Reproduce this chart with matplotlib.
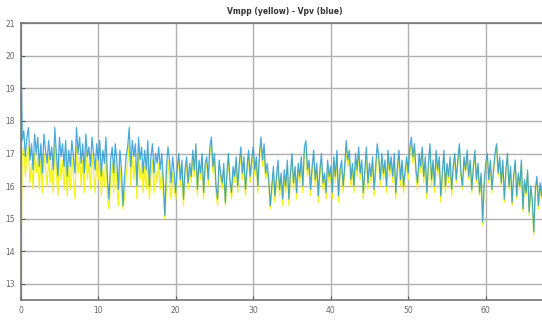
import numpy as np
import matplotlib
matplotlib.use("Agg")
from matplotlib import pyplot as plt

# sample spacing of the recorded signal (time units)
T_STEP = 0.2

vpv = [
    20.8, 17.4, 17.7, 16.9, 17.5, 17.8, 16.8, 17.3, 16.5, 17.6,
    17.0, 17.5, 16.6, 17.3, 16.4, 17.6, 17.1, 16.7, 17.4, 16.8,
    17.2, 16.5, 17.8, 17.0, 16.3, 17.5, 16.9, 17.3, 16.6, 17.4,
    16.3, 17.1, 16.6, 17.4, 16.9, 16.4, 17.8, 17.0, 17.5, 16.7,
    17.3, 16.4, 17.6, 16.9, 17.2, 16.6, 17.5, 17.0, 16.5, 17.3,
    16.8, 17.4, 16.3, 17.1, 16.7, 17.5, 16.2, 15.6, 16.8, 17.2,
    16.4, 17.3, 16.8, 15.9, 17.1, 16.5, 15.4, 16.3, 16.9, 17.2,
    17.8, 16.6, 17.4, 16.9, 17.3, 16.0, 17.5, 16.8, 17.2, 16.4,
    17.1, 16.5, 17.4, 16.0, 16.9, 17.3, 16.4, 17.0, 16.7, 17.2,
    16.5, 17.0, 16.2, 15.1, 16.6, 17.2, 16.8, 16.1, 16.9, 16.4,
    15.8, 16.6, 17.0, 16.2, 16.8, 15.6, 16.5, 16.9, 16.1, 16.7,
    16.3, 17.1, 16.5, 17.3, 15.9, 16.8, 16.4, 17.0, 15.8, 16.7,
    16.9, 16.2, 17.2, 17.5, 16.6, 17.0, 16.0, 15.6, 16.8, 16.4,
    16.1, 16.7, 15.5, 16.4, 17.0, 16.2, 15.8, 16.6, 16.3, 16.9,
    16.0, 16.7, 17.2, 16.4, 16.9, 15.9, 16.6, 17.1, 16.3, 16.8,
    17.2, 16.5, 16.9, 16.0, 17.0, 17.5, 16.8, 17.3, 16.4, 16.7,
    16.2, 15.4, 16.0, 16.6, 15.7, 16.3, 16.8, 15.9, 16.4, 15.6,
    16.5, 16.0, 16.8, 15.6, 16.4, 17.0, 16.1, 16.6, 15.8, 16.7,
    16.3, 16.9, 16.0, 17.2, 17.4, 16.5, 16.8, 15.9, 16.6, 17.1,
    16.2, 16.7, 15.7, 16.5, 17.0, 16.1, 16.4, 15.8, 16.8, 16.3,
    16.6, 15.8, 16.9, 16.3, 17.1, 15.7, 16.5, 16.8, 16.0, 16.6,
    17.4, 16.8, 17.1, 16.2, 16.7, 16.0, 17.0, 16.5, 17.2, 16.4,
    16.8, 15.8, 16.5, 17.2, 16.1, 16.7, 16.3, 16.9, 15.9, 16.6,
    17.3, 16.9, 16.2, 17.0, 16.4, 16.8, 16.0, 17.1, 16.5, 16.9,
    16.3, 17.0, 15.8, 16.6, 17.1, 16.2, 16.8, 16.0, 16.5, 16.9,
    16.4, 17.2, 17.5, 16.9, 17.3, 16.5, 16.1, 17.0, 16.6, 17.2,
    16.3, 16.9, 15.8, 16.7, 17.3, 16.2, 16.8, 16.0, 17.1, 16.5,
    16.9, 15.7, 16.4, 17.1, 16.0, 16.7, 16.3, 16.9, 15.9, 16.6,
    17.0, 16.2, 16.8, 17.3, 16.4, 16.0, 16.9, 16.5, 17.1, 16.3,
    16.8, 15.9, 16.6, 17.1, 16.2, 16.7, 15.8, 16.4, 14.9, 16.1,
    16.7, 17.0, 16.2, 16.8, 15.9, 16.5, 17.0, 17.3, 16.4, 16.9,
    16.1, 16.8, 15.6, 16.5, 17.0, 16.0, 16.6, 15.5, 16.3, 16.8,
    15.7, 16.4, 16.0, 16.8, 15.3, 16.2, 15.8, 16.5, 15.2, 16.0,
    15.6, 14.6, 15.9, 16.3, 15.4, 16.1, 15.7, 16.5, 15.2, 15.8,
    15.5,
]

vmpp = [
    13.0, 17.0, 17.2, 16.3, 16.9, 17.2, 16.1, 16.7, 15.9, 17.0,
    16.4, 16.9, 15.9, 16.8, 15.8, 17.0, 16.5, 16.0, 16.9, 16.1,
    16.7, 15.8, 17.3, 16.4, 15.7, 16.9, 16.2, 16.8, 15.9, 16.9,
    15.7, 16.6, 15.9, 16.9, 16.3, 15.6, 17.2, 16.4, 16.9, 16.0,
    16.8, 15.8, 17.1, 16.2, 16.7, 15.9, 17.0, 16.4, 15.8, 16.8,
    16.2, 16.9, 15.7, 16.5, 16.0, 17.0, 15.6, 15.3, 16.2, 16.7,
    15.8, 16.8, 16.1, 15.4, 16.6, 15.9, 15.3, 15.7, 16.3, 16.7,
    17.3, 16.0, 16.9, 16.2, 16.8, 15.6, 17.0, 16.2, 16.7, 15.8,
    16.6, 15.9, 16.9, 15.6, 16.3, 16.8, 15.8, 16.5, 16.1, 16.7,
    15.9, 16.5, 15.7, 15.0, 16.0, 16.8, 16.2, 15.6, 16.4, 15.9,
    15.6, 16.4, 16.8, 16.0, 16.6, 15.4, 16.3, 16.7, 15.9, 16.5,
    16.1, 16.9, 16.3, 17.1, 15.7, 16.6, 16.2, 16.8, 15.6, 16.5,
    16.7, 16.0, 17.0, 17.3, 16.4, 16.8, 15.8, 15.4, 16.6, 16.2,
    15.9, 16.5, 15.4, 16.2, 16.8, 16.0, 15.6, 16.4, 16.1, 16.7,
    15.8, 16.5, 17.0, 16.2, 16.7, 15.7, 16.4, 16.9, 16.1, 16.6,
    17.0, 16.3, 16.7, 15.8, 16.8, 17.3, 16.6, 17.1, 16.2, 16.5,
    16.0, 15.3, 15.8, 16.4, 15.5, 16.1, 16.6, 15.7, 16.2, 15.4,
    16.3, 15.8, 16.6, 15.4, 16.2, 16.8, 15.9, 16.4, 15.6, 16.5,
    16.1, 16.7, 15.8, 17.0, 17.2, 16.3, 16.6, 15.7, 16.4, 16.9,
    16.0, 16.5, 15.5, 16.3, 16.8, 15.9, 16.2, 15.6, 16.6, 16.1,
    16.4, 15.6, 16.7, 16.1, 16.9, 15.5, 16.3, 16.6, 15.8, 16.4,
    17.2, 16.6, 16.9, 16.0, 16.5, 15.8, 16.8, 16.3, 17.0, 16.2,
    16.6, 15.6, 16.3, 17.0, 15.9, 16.5, 16.1, 16.7, 15.7, 16.4,
    17.1, 16.7, 16.0, 16.8, 16.2, 16.6, 15.8, 16.9, 16.3, 16.7,
    16.1, 16.8, 15.6, 16.4, 16.9, 16.0, 16.6, 15.8, 16.3, 16.7,
    16.2, 17.0, 17.3, 16.7, 17.1, 16.3, 15.9, 16.8, 16.4, 17.0,
    16.1, 16.7, 15.6, 16.5, 17.1, 16.0, 16.6, 15.8, 16.9, 16.3,
    16.7, 15.5, 16.2, 16.9, 15.8, 16.5, 16.1, 16.7, 15.7, 16.4,
    16.9, 16.1, 16.7, 17.2, 16.3, 15.9, 16.8, 16.4, 17.0, 16.2,
    16.7, 15.8, 16.5, 17.0, 16.1, 16.6, 15.7, 16.3, 14.8, 16.0,
    16.6, 16.9, 16.1, 16.7, 15.8, 16.4, 16.9, 17.2, 16.3, 16.8,
    16.0, 16.7, 15.5, 16.4, 16.9, 15.9, 16.5, 15.4, 16.2, 16.7,
    15.6, 16.3, 15.9, 16.7, 15.2, 16.1, 15.7, 16.4, 15.1, 15.9,
    15.5, 14.5, 15.8, 16.2, 15.3, 16.0, 15.6, 16.4, 15.1, 15.7,
    15.4,
]

x_ticks = [0, 10, 20, 30, 40, 50, 60]
y_ticks = [13, 14, 15, 16, 17, 18, 19, 20, 21]

t = np.arange(len(vpv)) * T_STEP

fig = plt.figure(figsize=(5.42, 3.21), dpi=100)
# axes run past the right edge, like the cropped screenshot
ax = fig.add_axes([0.0382, 0.0654, 1.001, 0.862])

ax.plot(t, vmpp, color="#f2f21c", lw=0.9)
ax.plot(t, vpv, color="#2a9ad6", lw=0.9, alpha=0.85)

ax.set_xlim(0, 70)
ax.set_ylim(12.5, 21)
ax.set_xticks(x_ticks)
ax.set_yticks(y_ticks)
ax.grid(True, color="#b0b0b0", lw=1.0)
ax.set_axisbelow(True)
ax.tick_params(direction="in", length=3, labelsize=5.5, labelcolor="#666666",
               color="#555555", pad=4)
for s in ax.spines.values():
    s.set_color("#777777")
    s.set_linewidth(1.2)
ax.spines["right"].set_visible(False)

fig.text(285 / 542, 1 - 12 / 321, "Vmpp (yellow) - Vpv (blue)", ha="center",
         va="center", fontsize=5.5, fontweight="bold", color="#333333")

fig.savefig("out.png", dpi=100)
